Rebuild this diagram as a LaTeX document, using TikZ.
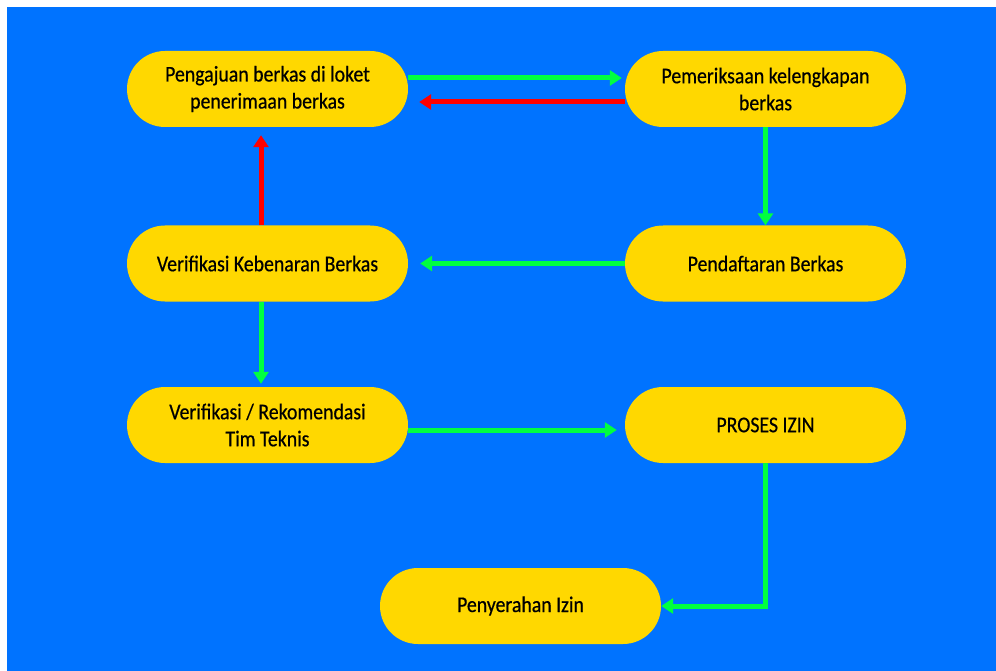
\documentclass[tikz,border=0pt]{standalone}
\usepackage{fontspec}
\setmainfont{Carlito}[FakeStretch=0.88,FakeBold=0.5]
\usetikzlibrary{arrows.meta}
\definecolor{bgblue}{HTML}{0073FF}
\definecolor{boxyellow}{HTML}{FFD800}
\definecolor{okgreen}{HTML}{00FF40}
\definecolor{backred}{HTML}{FF0000}

\begin{document}
\begin{tikzpicture}[x=1pt,y=-1pt,
	stepbox/.style={fill=boxyellow,minimum width=281pt,minimum height=76pt,
		rounded corners=38pt,align=center,font=\fontsize{22.5}{27}\selectfont},
	go/.style={draw=okgreen,line width=5pt,-{Triangle[length=12pt,width=15pt]}},
	back/.style={draw=backred,line width=5pt,-{Triangle[length=12pt,width=15pt]}}]
\useasboundingbox (0,0) rectangle (996,671);
\fill [bgblue] (7,7) rectangle (996,671);

\node [stepbox] (ajuan) at (267.5,89) {Pengajuan berkas di loket\\penerimaan berkas};
\node [stepbox] (periksa) at (765.5,89) {Pemeriksaan kelengkapan\\berkas};
\node [stepbox] (benar) at (267.5,263.5) {Verifikasi Kebenaran Berkas};
\node [stepbox] (daftar) at (765.5,263.5) {Pendaftaran Berkas};
\node [stepbox] (rekom) at (267.5,425) {Verifikasi / Rekomendasi\\Tim Teknis};
\node [stepbox] (proses) at (765.5,425) {PROSES IZIN};
\node [stepbox] (serah) at (520.5,606) {Penyerahan Izin};

\draw [go, shorten >=3pt] ([yshift=11pt]ajuan.east) -- ([yshift=11pt]periksa.west);
\draw [back, shorten >=11pt] ([yshift=-13pt]periksa.west) -- ([yshift=-13pt]ajuan.east);
\draw [go] (periksa.south) -- (daftar.north);
\draw [back, shorten >=8pt] ([xshift=-6.5pt]benar.north) -- ([xshift=-6.5pt]ajuan.south);
\draw [go, shorten >=12pt] (daftar.west) -- (benar.east);
\draw [go, shorten >=3pt] ([xshift=-6.5pt]benar.south) -- ([xshift=-6.5pt]rekom.north);
\draw [go, shorten >=8pt] ([yshift=-5pt]rekom.east) -- ([yshift=-5pt]proses.west);
\draw [go] (proses.south) |- (serah.east);
\end{tikzpicture}
\end{document}
